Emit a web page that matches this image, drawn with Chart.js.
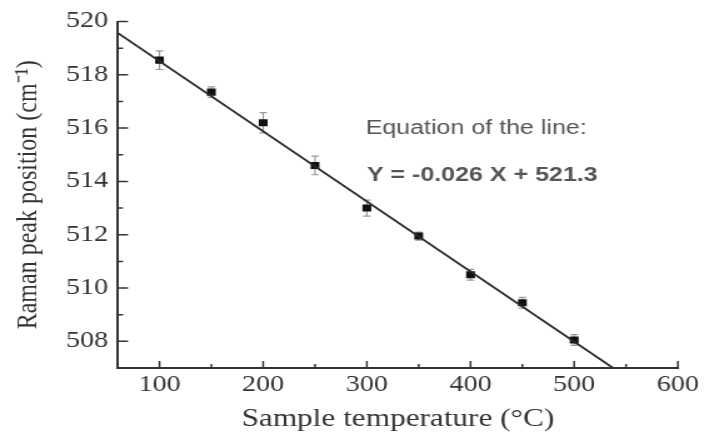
<!DOCTYPE html>
<html>
<head>
<meta charset="utf-8">
<script src="https://cdn.jsdelivr.net/npm/chart.js@4"></script>
<style>
  html, body { margin: 0; padding: 0; background: #fff; overflow: hidden; }
  /* the reference is stretched sideways, so draw narrow and widen */
  #wrap { position: absolute; left: 0; top: 0; width: 563px; height: 444px;
          transform: scaleX(1.2504); transform-origin: 0 0; }
</style>
</head>
<body>
<div id="wrap"><canvas id="chart"></canvas></div>
<script>
const temps = [100, 150, 200, 250, 300, 350, 400, 450, 500];
const peaks = [518.55, 517.35, 516.2, 514.6, 513.0, 511.95, 510.5, 509.45, 508.05];
const errs = [0.35, 0.2, 0.38, 0.35, 0.3, 0.15, 0.2, 0.2, 0.2];

// fitted line at the two axes
const fitX = [60, 537.5];
const fitY = [519.56, 507.0];

const xTicks = [100, 200, 300, 400, 500, 600];
const xMinor = [150, 250, 350, 450, 550];
const yTicks = [508, 510, 512, 514, 516, 518, 520];
const yMinor = [509, 511, 513, 515, 517, 519];

const equation = ["Equation of the line:", "Y = -0.026 X + 521.3"];

const ink = "#333";
const serif = "'Liberation Serif', 'Times New Roman', serif";

// error bars with small caps, under the markers
const errorBars = {
  id: "errorBars",
  beforeDatasetsDraw(chart) {
    const { ctx, scales: { x, y } } = chart;
    ctx.save();
    ctx.strokeStyle = "#9a9a9a";
    ctx.lineWidth = 1.2;
    temps.forEach((t, i) => {
      const px = x.getPixelForValue(t);
      const top = y.getPixelForValue(peaks[i] + errs[i]);
      const bot = y.getPixelForValue(peaks[i] - errs[i]);
      ctx.beginPath();
      ctx.moveTo(px, top);
      ctx.lineTo(px, bot);
      ctx.moveTo(px - 3, top);
      ctx.lineTo(px + 3, top);
      ctx.moveTo(px - 3, bot);
      ctx.lineTo(px + 3, bot);
      ctx.stroke();
    });
    ctx.restore();
  },
};

// ticks point into the plot
const innerTicks = {
  id: "innerTicks",
  afterDraw(chart) {
    const { ctx, chartArea: a, scales: { x, y } } = chart;
    ctx.save();
    ctx.strokeStyle = ink;
    ctx.lineWidth = 1.5;
    ctx.beginPath();
    xTicks.forEach((v) => {
      const px = x.getPixelForValue(v);
      ctx.moveTo(px, a.bottom);
      ctx.lineTo(px, a.bottom - 7);
    });
    xMinor.forEach((v) => {
      const px = x.getPixelForValue(v);
      ctx.moveTo(px, a.bottom);
      ctx.lineTo(px, a.bottom - 4);
    });
    yTicks.forEach((v) => {
      const py = y.getPixelForValue(v);
      ctx.moveTo(a.left, py);
      ctx.lineTo(a.left + 8, py);
    });
    yMinor.forEach((v) => {
      const py = y.getPixelForValue(v);
      ctx.moveTo(a.left, py);
      ctx.lineTo(a.left + 4, py);
    });
    ctx.stroke();

    // equation text, anchored in data space
    ctx.fillStyle = "#555";
    ctx.textBaseline = "alphabetic";
    ctx.font = "20px 'Liberation Sans', Arial, sans-serif";
    ctx.fillText(equation[0], x.getPixelForValue(298.8), y.getPixelForValue(515.79));
    ctx.font = "bold 20px 'Liberation Sans', Arial, sans-serif";
    ctx.fillText(equation[1], x.getPixelForValue(300), y.getPixelForValue(514.0));
    ctx.restore();
  },
};

new Chart(document.getElementById("chart"), {
  type: "scatter",
  data: {
    datasets: [
      {
        type: "line",
        data: fitX.map((v, i) => ({ x: v, y: fitY[i] })),
        borderColor: "#2a2a2a",
        borderWidth: 1.8,
        pointRadius: 0,
        fill: false,
        clip: 0,
      },
      {
        data: temps.map((t, i) => ({ x: t, y: peaks[i] })),
        backgroundColor: "#111",
        borderColor: "#111",
        borderWidth: 0,
        pointStyle: "rect",
        pointRadius: 5,
        pointHoverRadius: 5,
      },
    ],
  },
  options: {
    responsive: true,
    maintainAspectRatio: false,
    animation: false,
    events: [],
    layout: { padding: { top: 18, right: 19, left: 0, bottom: 0 } },
    plugins: {
      legend: { display: false },
      tooltip: { enabled: false },
    },
    scales: {
      x: {
        type: "linear",
        min: 60,
        max: 600,
        afterFit: (s) => { s.height = 76; },
        afterBuildTicks: (s) => { s.ticks = xTicks.map((v) => ({ value: v })); },
        grid: { display: false, drawTicks: false },
        border: { display: true, color: ink, width: 2 },
        ticks: {
          padding: 4,
          color: ink,
          font: { family: serif, size: 22.5 },
        },
        title: {
          display: true,
          text: "Sample temperature (°C)",
          color: ink,
          font: { family: serif, size: 25 },
          padding: { top: 0, bottom: 10 },
        },
      },
      y: {
        type: "linear",
        min: 507,
        max: 520,
        afterFit: (s) => { s.width = 94.4; },
        afterBuildTicks: (s) => { s.ticks = yTicks.map((v) => ({ value: v })); },
        grid: { display: false, drawTicks: false },
        border: { display: true, color: ink, width: 2 },
        ticks: {
          padding: 8,
          color: ink,
          font: { family: serif, size: 22.5 },
        },
        title: {
          display: true,
          text: "Raman peak position (cm⁻¹)",
          color: ink,
          font: { family: serif, size: 24 },
          padding: { top: 8, bottom: 0 },
        },
      },
    },
  },
  plugins: [errorBars, innerTicks],
});
</script>
</body>
</html>
